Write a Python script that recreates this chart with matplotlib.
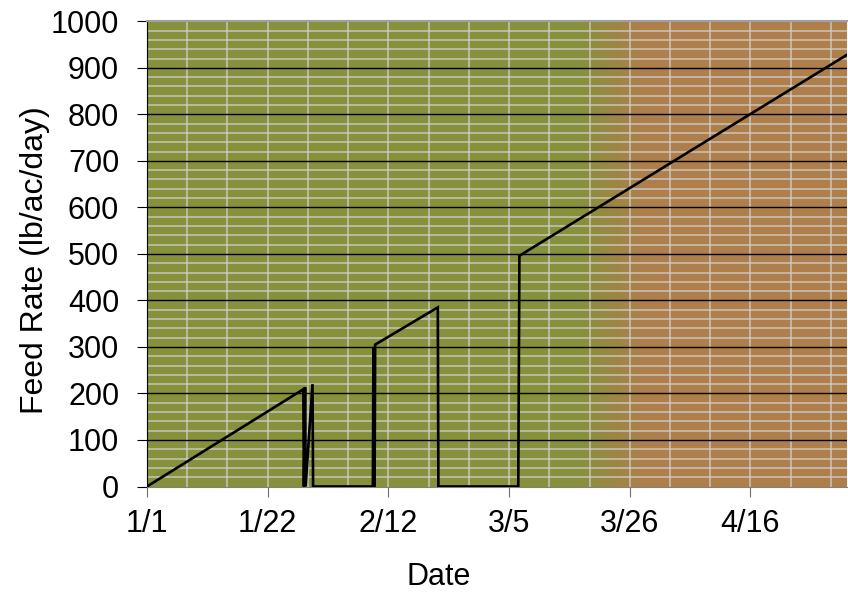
import matplotlib
matplotlib.use('Agg')
import matplotlib.pyplot as plt
from matplotlib.colors import LinearSegmentedColormap
import numpy as np

plt.rcParams['font.family'] = ['Liberation Sans', 'DejaVu Sans']

# days after 1/1 and feed rate (lb/ac/day)
days = [0, 27.2, 27.3, 27.5, 27.6, 28.8, 28.9, 39.3, 39.4, 39.6, 39.7, 50.6, 50.7, 64.6, 64.8, 121.8]
rate = [0, 209, 0, 213, 0, 220, 0, 0, 300, 0, 305, 385, 0, 0, 496, 928]

tick_days = [0, 21, 42, 63, 84, 105]
tick_labels = ['1/1', '1/22', '2/12', '3/5', '3/26', '4/16']


def main():
    fig = plt.figure(figsize=(8.48, 5.93), dpi=100)
    ax = fig.add_axes([147/848, 1 - 486.5/593, 700/848, 465.2/593])

    # green -> brown background
    cmap = LinearSegmentedColormap.from_list(
        'bg', [(0, '#87913a'), (0.62, '#88903b'), (0.71, '#ae7f4c'), (1, '#b07f4b')])
    grad = np.linspace(0, 1, 512).reshape(1, -1)
    ax.imshow(grad, cmap=cmap, aspect='auto', extent=[0, 1, 0, 1],
              transform=ax.transAxes, zorder=0)

    ax.set_xlim(0, 121.8)
    ax.set_ylim(0, 1000)

    # light grid
    for d in np.arange(7, 122, 7):
        ax.axvline(d, color='#cfcfcf', lw=1.1, alpha=0.85, zorder=1)
    for v in range(20, 1000, 20):
        if v % 100:
            ax.axhline(v, color='#d0d0d0', lw=1.1, alpha=0.85, zorder=1)
    for v in range(100, 1000, 100):
        ax.axhline(v, color='black', lw=1.0, zorder=2)

    ax.plot(days, rate, color='black', lw=1.9, zorder=3, solid_joinstyle='miter')

    ax.set_xticks(tick_days)
    ax.set_xticklabels(tick_labels)
    ax.set_yticks(range(0, 1001, 100))
    ax.tick_params(axis='both', labelsize=22, length=7, direction='out')
    ax.tick_params(axis='x', color='#707070', pad=9)
    ax.tick_params(axis='y', pad=13)

    ax.spines['right'].set_visible(False)
    ax.spines['top'].set_color('#a0a0a0')
    ax.spines['top'].set_linewidth(1.5)
    ax.spines['bottom'].set_color('#808080')
    ax.spines['left'].set_color('black')

    ax.set_xlabel('Date', fontsize=22, labelpad=18)
    ax.xaxis.set_label_coords(0.416, -0.163)
    ax.set_ylabel('Feed Rate (lb/ac/day)', fontsize=23, labelpad=2)
    ax.yaxis.set_label_coords(-0.138, 0.487)

    fig.savefig('out.png', dpi=100)


if __name__ == '__main__':
    main()
